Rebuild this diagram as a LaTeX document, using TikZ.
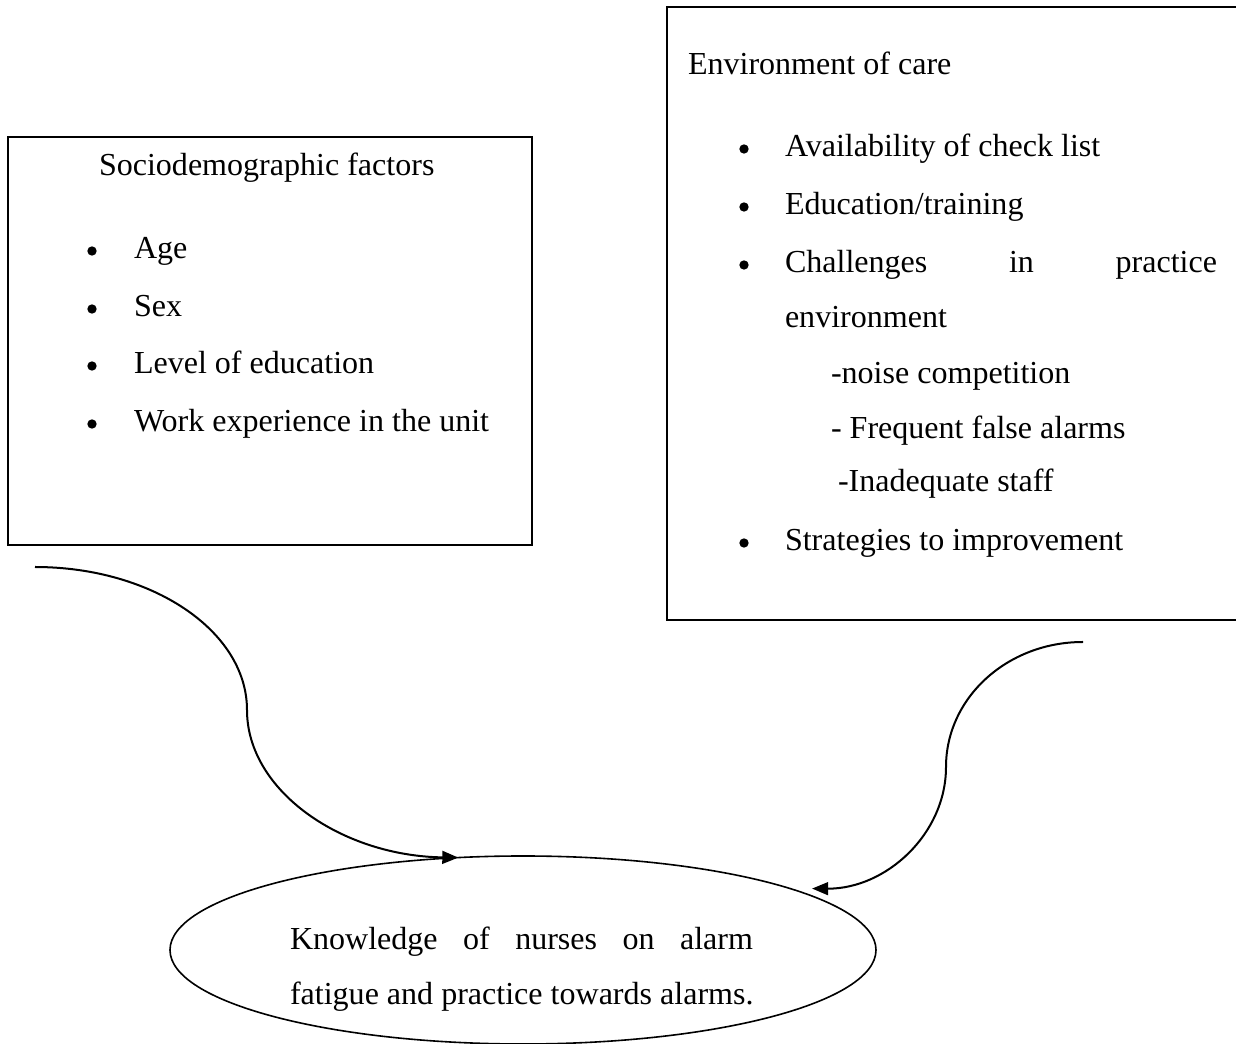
\documentclass[tikz,border=0pt]{standalone}
\usepackage{fontspec}
\setmainfont{Liberation Serif}
\usetikzlibrary{shapes.geometric,arrows.meta}
\begin{document}
\begin{tikzpicture}[x=0.3745pt,y=-0.3745pt,
  every node/.style={inner sep=0pt, outer sep=0pt},
  box/.style={draw, line width=0.7pt, rectangle},
  txt/.style={anchor=base west, font=\fontsize{12}{14}\selectfont},
  bul/.style={circle, fill=black, minimum size=3.5pt},
  conn/.style={line width=0.75pt, -{Triangle[length=6pt,width=4.8pt]}}]
\useasboundingbox (0,0) rectangle (1236,1044);
\clip (0,0) rectangle (1236,1044);
% boxes
\node[box, minimum width=524*0.3745pt, minimum height=408*0.3745pt] (socio) at (270,341) {};
\node[box, minimum width=573*0.3745pt, minimum height=613*0.3745pt] (env) at (953.5,313.5) {};
\node[draw, ellipse, line width=0.6pt, minimum width=706*0.3745pt, minimum height=188*0.3745pt] (know) at (523,950) {};
% left box text
\node[txt] (sh) at (99,176) {Sociodemographic factors};
\node[bul] (b1) at (92,251) {};
\node[txt] (t1) at (134,259) {Age};
\node[bul] (b2) at (92,309) {};
\node[txt] (t2) at (134,317) {Sex};
\node[bul] (b3) at (92,366) {};
\node[txt] (t3) at (134,374) {Level of education};
\node[bul] (b4) at (92,424) {};
\node[txt] (t4) at (134,432) {Work experience in the unit};
% right box text
\node[txt] (eh) at (688,75) {Environment of care};
\node[bul] (c1) at (744,149) {};
\node[txt] (u1) at (785,157) {Availability of check list};
\node[bul] (c2) at (744,207) {};
\node[txt] (u2) at (785,215) {Education/training};
\node[bul] (c3) at (744,265) {};
\node[txt] (u3) at (785,273) {\makebox[161.8pt][s]{Challenges in practice}};
\node[txt] (u3b) at (785,328) {environment};
\node[txt] (u4) at (831,384) {-noise competition};
\node[txt] (u5) at (831,439) {- Frequent false alarms};
\node[txt] (u6) at (838,492) {-Inadequate staff};
\node[bul] (c7) at (744,543) {};
\node[txt] (u7) at (785,551) {Strategies to improvement};
% ellipse text
\node[txt] (k1) at (290,950) {\makebox[173.4pt][s]{Knowledge of nurses on alarm}};
\node[txt] (k2) at (290,1005) {fatigue and practice towards alarms.};
% connectors
\coordinate (s1) at (35,567);
\coordinate (e1) at (1083,642);
\draw[conn] (s1) .. controls (152,567) and (247,631) .. (247,710)
  .. controls (247,791) and (342,856) .. (know.125);
\draw[conn] (e1) .. controls (1007,642) and (946,698) .. (946,767)
  .. controls (946,834) and (886,889) .. ([shift={(4,-6)}]know.11);
\end{tikzpicture}
\end{document}
